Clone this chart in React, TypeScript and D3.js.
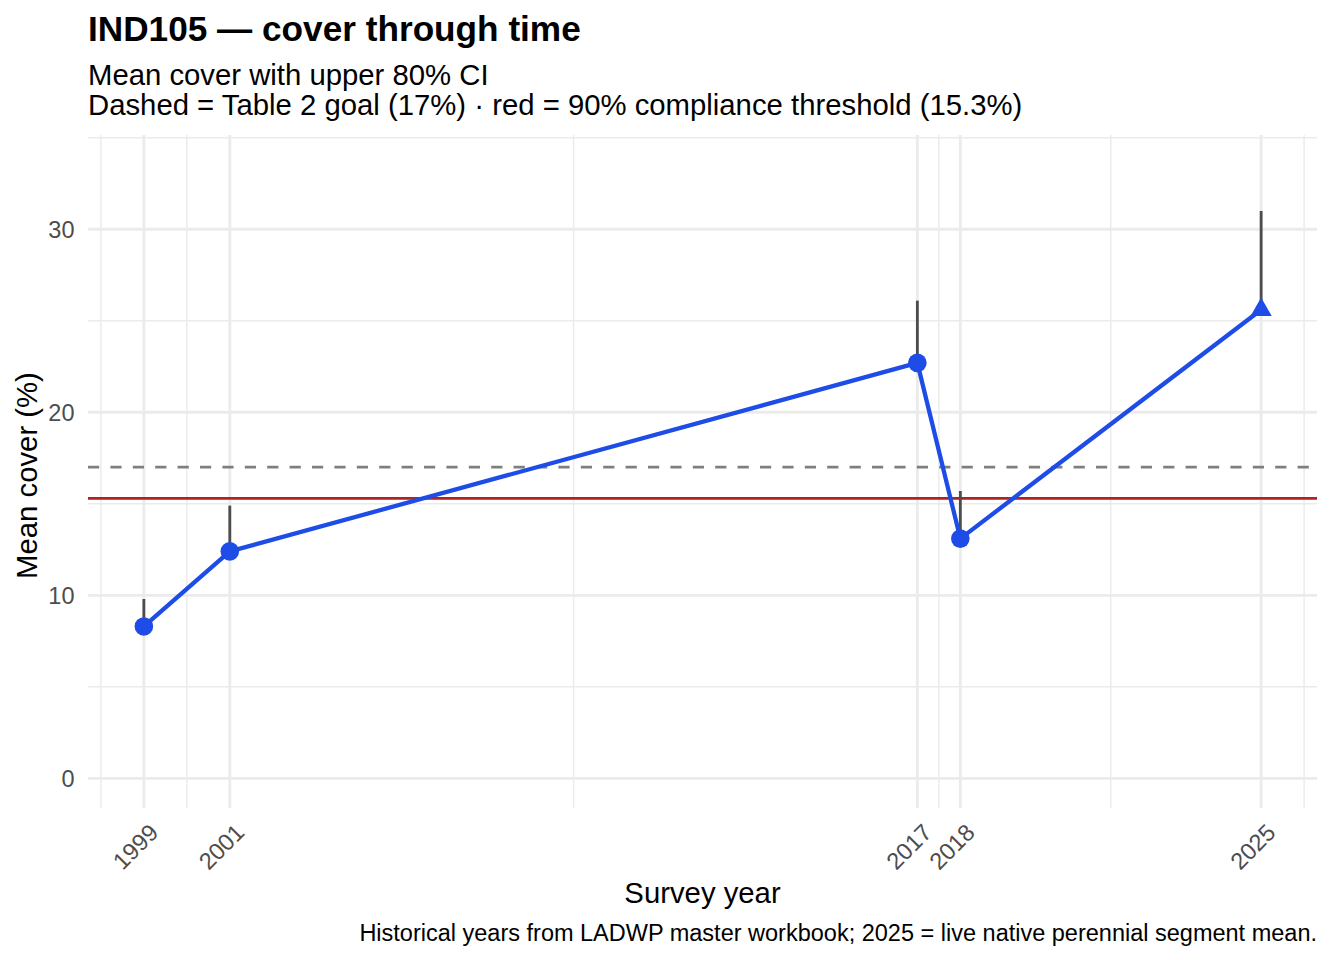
import React from "react";
import * as d3 from "d3";

const years = [1999, 2001, 2017, 2018, 2025];
const meanCover = [8.3, 12.4, 22.7, 13.1, 25.6];
const upperCI = [9.8, 14.9, 26.1, 15.7, 31.0];
const isLive = [false, false, false, false, true];
const goalValue = 17;
const thresholdValue = 15.3;
const yTicks = [0, 10, 20, 30];
const yMinorTicks = [5, 15, 25, 35];
const xMinorTicks = [1998, 2000, 2009, 2017.5, 2021.5, 2026];

const titleText = "IND105 — cover through time";
const subtitleLines = [
  "Mean cover with upper 80% CI",
  "Dashed = Table 2 goal (17%) · red = 90% compliance threshold (15.3%)",
];
const xTitle = "Survey year";
const yTitle = "Mean cover (%)";
const captionText =
  "Historical years from LADWP master workbook; 2025 = live native perennial segment mean.";

const W = 1344;
const H = 960;
const panel = { left: 88, right: 1317, top: 135, bottom: 808 };
const FONT = "'Liberation Sans', Arial, Helvetica, sans-serif";
const BLUE = "#1D4CE6";
const GRID = "#EBEBEB";

export default function App() {
  const x = d3.scaleLinear().domain([1997.7, 2026.3]).range([panel.left, panel.right]);
  const y = d3.scaleLinear().domain([-1.62, 35.15]).range([panel.bottom, panel.top]);

  const data = years.map((yr, i) => ({
    year: yr,
    mean: meanCover[i],
    upper: upperCI[i],
    live: isLive[i],
  }));

  const line = d3
    .line<{ year: number; mean: number }>()
    .x((d) => x(d.year))
    .y((d) => y(d.mean));

  const triR = 12.2;
  const triPath = (cx: number, cy: number) => {
    const xc = triR * 0.866;
    return `M${cx},${cy - triR}L${cx + xc},${cy + triR / 2}L${cx - xc},${cy + triR / 2}Z`;
  };

  return (
    <div style={{ position: "absolute", left: 0, top: 0 }}>
      <svg width={W} height={H} style={{ display: "block", background: "#fff" }} fontFamily={FONT}>
        {/* minor grid */}
        {xMinorTicks.map((t) => (
          <line key={"xm" + t} x1={x(t)} x2={x(t)} y1={panel.top} y2={panel.bottom} stroke={GRID} strokeWidth={1.42} />
        ))}
        {yMinorTicks.map((t) => (
          <line key={"ym" + t} x1={panel.left} x2={panel.right} y1={y(t)} y2={y(t)} stroke={GRID} strokeWidth={1.42} />
        ))}
        {/* major grid */}
        {years.map((t) => (
          <line key={"xM" + t} x1={x(t)} x2={x(t)} y1={panel.top} y2={panel.bottom} stroke={GRID} strokeWidth={2.84} />
        ))}
        {yTicks.map((t) => (
          <line key={"yM" + t} x1={panel.left} x2={panel.right} y1={y(t)} y2={y(t)} stroke={GRID} strokeWidth={2.84} />
        ))}

        {/* reference lines */}
        <line x1={panel.left} x2={panel.right} y1={y(goalValue)} y2={y(goalValue)} stroke="#7F7F7F" strokeWidth={2.84} strokeDasharray="11.2,11.2" />
        <line x1={panel.left} x2={panel.right} y1={y(thresholdValue)} y2={y(thresholdValue)} stroke="#B22222" strokeWidth={2.84} />

        {/* CI bars */}
        {data.map((d) => (
          <line key={"ci" + d.year} x1={x(d.year)} x2={x(d.year)} y1={y(d.mean)} y2={y(d.upper)} stroke="#4D4D4D" strokeWidth={2.84} />
        ))}

        {/* mean line */}
        <path d={line(data) || ""} fill="none" stroke={BLUE} strokeWidth={4.27} strokeLinejoin="round" strokeLinecap="butt" />

        {/* points */}
        {data.map((d) =>
          d.live ? (
            <path key={"p" + d.year} d={triPath(x(d.year), y(d.mean))} fill={BLUE} />
          ) : (
            <circle key={"p" + d.year} cx={x(d.year)} cy={y(d.mean)} r={9.3} fill={BLUE} />
          )
        )}

        {/* y tick labels */}
        {yTicks.map((t) => (
          <text key={"yl" + t} x={74.5} y={y(t)} dy="0.36em" textAnchor="end" fontSize={23.5} fill="#4D4D4D">
            {t}
          </text>
        ))}

        {/* x tick labels */}
        {years.map((t) => (
          <text
            key={"xl" + t}
            transform={`translate(${x(t) + 4},${822}) rotate(-45)`}
            dy="0.72em"
            textAnchor="end"
            fontSize={23.5}
            fill="#4D4D4D"
          >
            {t}
          </text>
        ))}

        {/* axis titles */}
        <text x={(panel.left + panel.right) / 2} y={903} textAnchor="middle" fontSize={29.3} fill="#000">
          {xTitle}
        </text>
        <text
          transform={`translate(36.5,${(panel.top + panel.bottom) / 2 + 4}) rotate(-90)`}
          textAnchor="middle"
          fontSize={29.3}
          fill="#000"
        >
          {yTitle}
        </text>

        {/* title, subtitle, caption */}
        <text x={panel.left} y={41} fontSize={35.2} fontWeight="bold" fill="#000">
          {titleText}
        </text>
        {subtitleLines.map((s, i) => (
          <text key={"st" + i} x={panel.left} y={84.5 + i * 30.5} fontSize={29.3} fill="#000">
            {s}
          </text>
        ))}
        <text x={panel.right} y={941} textAnchor="end" fontSize={23.5} fill="#000">
          {captionText}
        </text>
      </svg>
    </div>
  );
}
